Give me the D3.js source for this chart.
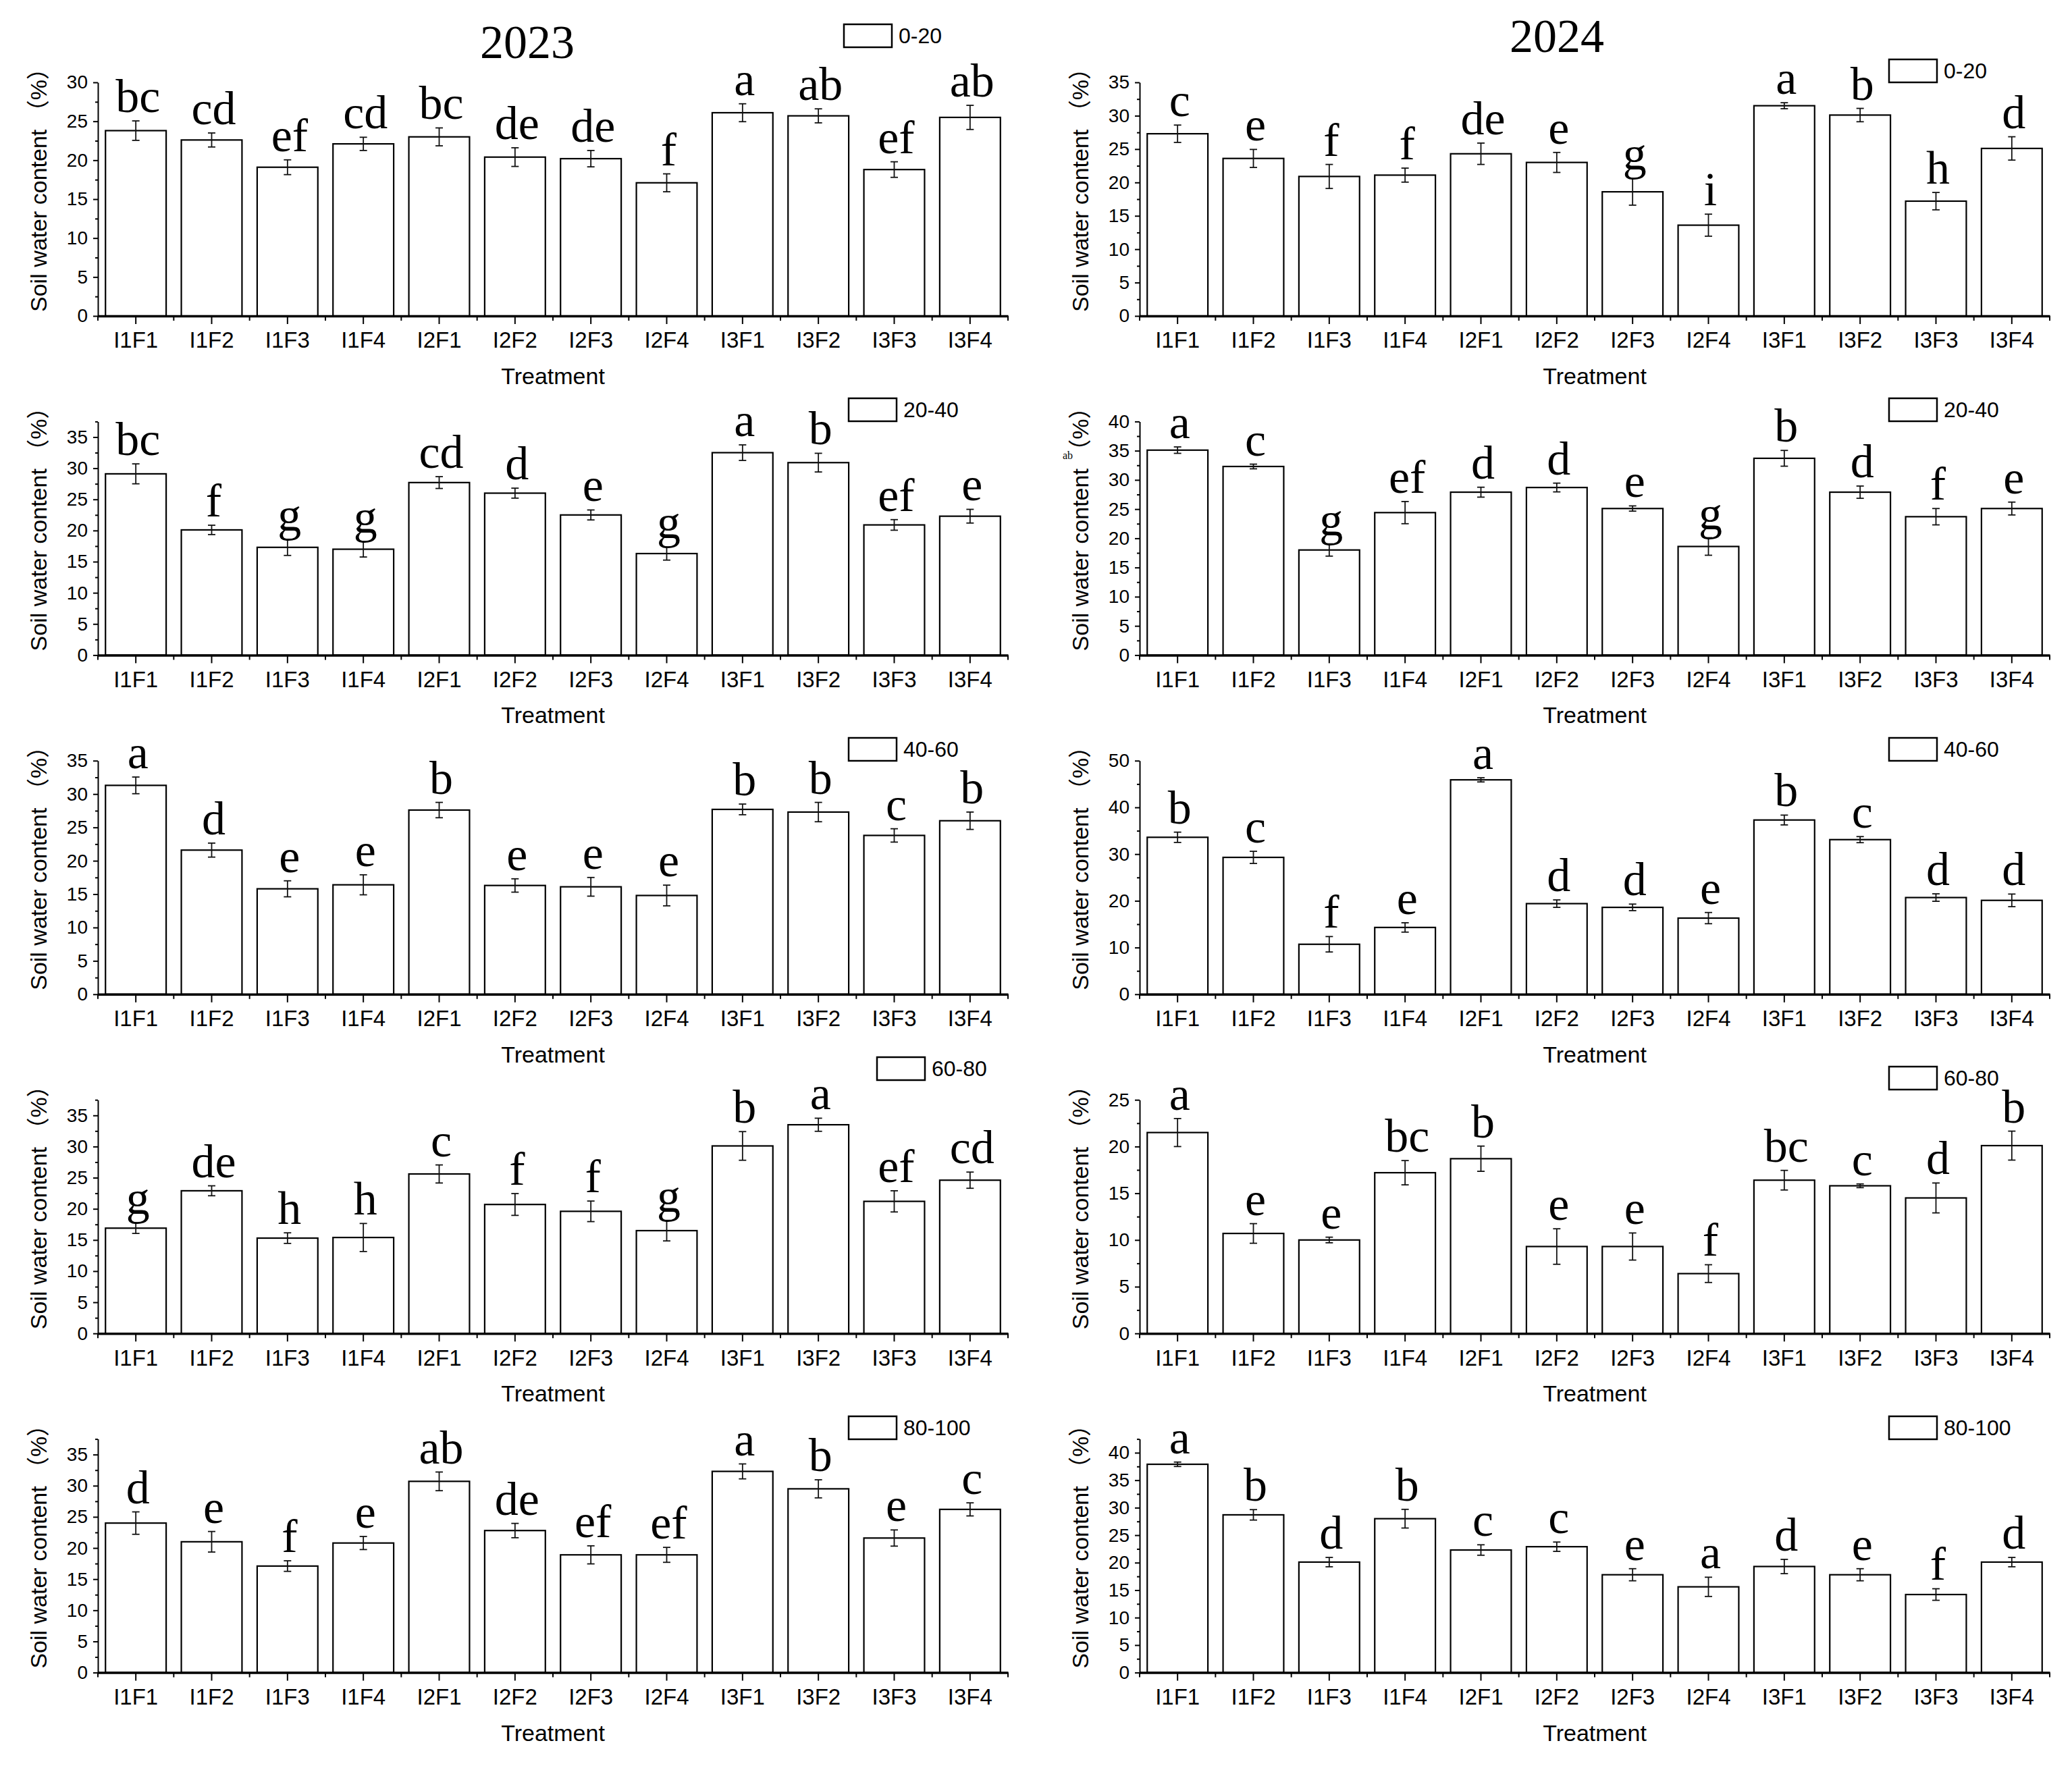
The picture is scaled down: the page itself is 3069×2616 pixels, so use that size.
<!DOCTYPE html>
<html>
<head>
<meta charset="utf-8">
<script src="https://cdn.jsdelivr.net/npm/d3@7"></script>
<style>
  body { margin: 0; background: #fff; }
</style>
</head>
<body>
<script>
'use strict';

// categories
var treatments = ['I1F1', 'I1F2', 'I1F3', 'I1F4', 'I2F1', 'I2F2', 'I2F3', 'I2F4', 'I3F1', 'I3F2', 'I3F3', 'I3F4'];
var depths = ['0-20', '20-40', '40-60', '60-80', '80-100'];
var years = ['2023', '2024'];

// 2023 soil water content (%), error, significance letters
var swc23_0_20   = [23.8, 22.6, 19.1, 22.1, 23.0, 20.4, 20.2, 17.1, 26.1, 25.7, 18.8, 25.5];
var err23_0_20   = [1.25, 0.9, 0.95, 0.85, 1.15, 1.2, 1.05, 1.15, 1.15, 0.9, 1.0, 1.55];
var sig23_0_20   = ['bc', 'cd', 'ef', 'cd', 'bc', 'de', 'de', 'f', 'a', 'ab', 'ef', 'ab'];

var swc23_20_40  = [29.1, 20.1, 17.3, 17.0, 27.7, 26.0, 22.5, 16.3, 32.5, 30.9, 20.9, 22.3];
var err23_20_40  = [1.6, 0.75, 1.3, 1.25, 0.95, 0.8, 0.8, 1.05, 1.25, 1.5, 0.85, 1.1];
var sig23_20_40  = ['bc', 'f', 'g', 'g', 'cd', 'd', 'e', 'g', 'a', 'b', 'ef', 'e'];

var swc23_40_60  = [31.3, 21.6, 15.8, 16.4, 27.6, 16.3, 16.1, 14.8, 27.7, 27.3, 23.8, 26.0];
var err23_40_60  = [1.25, 1.05, 1.2, 1.5, 1.15, 1.0, 1.4, 1.55, 0.8, 1.45, 1.0, 1.3];
var sig23_40_60  = ['a', 'd', 'e', 'e', 'b', 'e', 'e', 'e', 'b', 'b', 'c', 'b'];

var swc23_60_80  = [16.9, 22.9, 15.3, 15.4, 25.6, 20.7, 19.6, 16.5, 30.1, 33.5, 21.2, 24.6];
var err23_60_80  = [0.85, 0.8, 0.85, 2.25, 1.45, 1.75, 1.65, 1.65, 2.3, 1.05, 1.7, 1.3];
var sig23_60_80  = ['g', 'de', 'h', 'h', 'c', 'f', 'f', 'g', 'b', 'a', 'ef', 'cd'];

var swc23_80_100 = [24.0, 21.0, 17.1, 20.8, 30.7, 22.8, 18.9, 18.9, 32.3, 29.5, 21.6, 26.2];
var err23_80_100 = [1.8, 1.65, 0.85, 1.05, 1.5, 1.15, 1.45, 1.2, 1.2, 1.45, 1.3, 1.05];
var sig23_80_100 = ['d', 'e', 'f', 'e', 'ab', 'de', 'ef', 'ef', 'a', 'b', 'e', 'c'];

// 2024
var swc24_0_20   = [27.3, 23.6, 20.9, 21.1, 24.3, 23.0, 18.6, 13.6, 31.5, 30.1, 17.2, 25.1];
var err24_0_20   = [1.3, 1.35, 1.8, 1.05, 1.6, 1.5, 2.0, 1.65, 0.45, 1.0, 1.3, 1.75];
var sig24_0_20   = ['c', 'e', 'f', 'f', 'de', 'e', 'g', 'i', 'a', 'b', 'h', 'd'];

var swc24_20_40  = [35.1, 32.3, 18.0, 24.4, 27.9, 28.7, 25.1, 18.6, 33.7, 27.9, 23.7, 25.1];
var err24_20_40  = [0.55, 0.4, 1.05, 1.9, 0.85, 0.75, 0.45, 1.5, 1.35, 1.05, 1.4, 1.1];
var sig24_20_40  = ['a', 'c', 'g', 'ef', 'd', 'd', 'e', 'g', 'b', 'd', 'f', 'e'];

var swc24_40_60  = [33.6, 29.3, 10.7, 14.3, 45.9, 19.4, 18.6, 16.3, 37.3, 33.1, 20.7, 20.1];
var err24_40_60  = [1.1, 1.3, 1.65, 1.0, 0.45, 0.8, 0.7, 1.2, 1.05, 0.65, 0.8, 1.35];
var sig24_40_60  = ['b', 'c', 'f', 'e', 'a', 'd', 'd', 'e', 'b', 'c', 'd', 'd'];

var swc24_60_80  = [21.5, 10.7, 10.0, 17.2, 18.7, 9.3, 9.3, 6.4, 16.4, 15.8, 14.5, 20.1];
var err24_60_80  = [1.5, 1.05, 0.3, 1.3, 1.35, 1.9, 1.45, 0.95, 1.05, 0.2, 1.6, 1.55];
var sig24_60_80  = ['a', 'e', 'e', 'bc', 'b', 'e', 'e', 'f', 'bc', 'c', 'd', 'b'];

var swc24_80_100 = [37.9, 28.7, 20.1, 28.0, 22.3, 22.9, 17.8, 15.6, 19.3, 17.8, 14.2, 20.1];
var err24_80_100 = [0.4, 0.95, 0.85, 1.7, 0.95, 0.85, 1.1, 1.75, 1.3, 1.1, 1.05, 0.85];
var sig24_80_100 = ['a', 'b', 'd', 'b', 'c', 'c', 'e', 'a', 'd', 'e', 'f', 'd'];

// y axis top per panel, [2023, 2024] for each depth
var yTop23 = [30, 37.5, 35, 37.5, 37.5];
var yTop24 = [35, 40, 50, 25, 42.5];
var yStep23 = [5, 5, 5, 5, 5];
var yStep24 = [5, 5, 10, 5, 5];

var W = 3069, H = 2616;
var sans = '"Liberation Sans", Arial, "Noto Sans CJK SC", sans-serif';
var serif = '"Liberation Serif", "Times New Roman", serif';

var svg = d3.select('body').append('svg')
  .attr('width', W)
  .attr('height', H)
  .style('background', '#fff');

// layout
var colLeft = [145, 1688];
var plotW = 1348;
var rowTop0 = 122, rowGap = 502.4, plotH = 346;
var legendX = [[1250, 1257, 1257, 1299, 1257], [2798, 2798, 2798, 2798, 2798]];
var legendY = [[36, 590, 1093, 1566, 2098], [88, 590, 1093, 1580, 2098]];

var panels = [
  [swc23_0_20, err23_0_20, sig23_0_20],
  [swc23_20_40, err23_20_40, sig23_20_40],
  [swc23_40_60, err23_40_60, sig23_40_60],
  [swc23_60_80, err23_60_80, sig23_60_80],
  [swc23_80_100, err23_80_100, sig23_80_100],
  [swc24_0_20, err24_0_20, sig24_0_20],
  [swc24_20_40, err24_20_40, sig24_20_40],
  [swc24_40_60, err24_40_60, sig24_40_60],
  [swc24_60_80, err24_60_80, sig24_60_80],
  [swc24_80_100, err24_80_100, sig24_80_100]
];

function drawPanel(col, row) {
  var p = panels[col * 5 + row];
  var vals = p[0], errs = p[1], sigs = p[2];
  var data = treatments.map(function(t, i){
    return {t: t, v: vals[i], e: errs[i], s: sigs[i]};
  });
  var ymax = col === 0 ? yTop23[row] : yTop24[row];
  var ystep = col === 0 ? yStep23[row] : yStep24[row];
  var x0 = colLeft[col];
  var top = rowTop0 + row * rowGap;
  var bottom = top + plotH;

  var x = d3.scaleBand()
    .domain(treatments)
    .range([x0, x0 + plotW])
    .paddingInner(0.2)
    .paddingOuter(0.1);

  var y = d3.scaleLinear()
    .domain([0, ymax])
    .range([bottom, top]);

  var g = svg.append('g');

  // bars
  g.selectAll('.bar')
      .data(data)
    .enter().append('rect')
      .attr('class', 'bar')
      .attr('x', function(d){ return x(d.t); })
      .attr('y', function(d){ return y(d.v); })
      .attr('width', x.bandwidth())
      .attr('height', function(d){ return bottom - y(d.v); })
      .attr('fill', '#fff')
      .attr('stroke', '#000')
      .attr('stroke-width', 2.2);

  // error bars
  var eb = g.selectAll('.err')
      .data(data)
    .enter().append('g')
      .attr('class', 'err')
      .attr('stroke', '#111')
      .attr('stroke-width', 1.8);
  eb.append('line')
    .attr('x1', function(d){ return x(d.t) + x.bandwidth() / 2; })
    .attr('x2', function(d){ return x(d.t) + x.bandwidth() / 2; })
    .attr('y1', function(d){ return y(d.v - d.e); })
    .attr('y2', function(d){ return y(d.v + d.e); });
  [-1, 1].forEach(function(sgn){
    eb.append('line')
      .attr('x1', function(d){ return x(d.t) + x.bandwidth() / 2 - 5.5; })
      .attr('x2', function(d){ return x(d.t) + x.bandwidth() / 2 + 5.5; })
      .attr('y1', function(d){ return y(d.v + sgn * d.e); })
      .attr('y2', function(d){ return y(d.v + sgn * d.e); });
  });

  // significance letters
  g.selectAll('.sig')
      .data(data)
    .enter().append('text')
      .attr('class', 'sig')
      .attr('x', function(d){ return x(d.t) + x.bandwidth() / 2 + 3; })
      .attr('y', function(d){ return y(d.v + d.e) - 13; })
      .attr('text-anchor', 'middle')
      .attr('font-family', serif)
      .attr('font-size', 70)
      .attr('fill', '#000')
      .text(function(d){ return d.s; });

  // y axis: major with labels, minor without
  var major = d3.range(0, ymax + 0.001, ystep);
  var minor = d3.range(ystep / 2, ymax + 0.001, ystep);
  var yAxis = g.append('g')
    .attr('transform', 'translate(' + x0 + ',0)')
    .call(d3.axisLeft(y).tickValues(major).tickSize(7).tickSizeOuter(0).tickPadding(8));
  yAxis.select('.domain').attr('stroke', '#000').attr('stroke-width', 2);
  yAxis.selectAll('.tick line').attr('stroke', '#000').attr('stroke-width', 2);
  yAxis.selectAll('.tick text')
    .attr('font-family', sans)
    .attr('font-size', 28)
    .attr('fill', '#000');
  var yMinor = g.append('g')
    .attr('transform', 'translate(' + x0 + ',0)')
    .call(d3.axisLeft(y).tickValues(minor).tickSize(4).tickFormat(''));
  yMinor.select('.domain').remove();
  yMinor.selectAll('.tick line').attr('stroke', '#000').attr('stroke-width', 2);

  // x axis
  var xAxis = g.append('g')
    .attr('transform', 'translate(0,' + bottom + ')')
    .call(d3.axisBottom(x).tickSize(12).tickSizeOuter(0).tickPadding(12));
  xAxis.select('.domain').attr('stroke', '#000').attr('stroke-width', 3.5);
  xAxis.selectAll('.tick line').attr('stroke', '#000').attr('stroke-width', 2);
  xAxis.selectAll('.tick text')
    .attr('font-family', sans)
    .attr('font-size', 33)
    .attr('fill', '#000');

  // minor x ticks at band boundaries
  var bounds = d3.range(0, treatments.length + 1).map(function(i){ return x0 + i * x.step(); });
  g.selectAll('.xminor')
      .data(bounds)
    .enter().append('line')
      .attr('class', 'xminor')
      .attr('x1', function(d){ return d; })
      .attr('x2', function(d){ return d; })
      .attr('y1', bottom)
      .attr('y2', bottom + 7)
      .attr('stroke', '#000')
      .attr('stroke-width', 2);

  // axis titles
  g.append('text')
    .attr('x', x0 + plotW / 2)
    .attr('y', bottom + 101)
    .attr('text-anchor', 'middle')
    .attr('font-family', sans)
    .attr('font-size', 34)
    .attr('fill', '#000')
    .text('Treatment');

  g.append('text')
    .attr('transform', 'translate(' + (x0 - 76) + ',' + (bottom - 6) + ') rotate(-90)')
    .attr('text-anchor', 'start')
    .attr('font-family', sans)
    .attr('font-size', 34)
    .attr('fill', '#000')
    .text('Soil water content （%）');

  // legend
  var lx = legendX[col][row], ly = legendY[col][row];
  g.append('rect')
    .attr('x', lx)
    .attr('y', ly)
    .attr('width', 71)
    .attr('height', 34)
    .attr('fill', '#fff')
    .attr('stroke', '#000')
    .attr('stroke-width', 2.5);
  g.append('text')
    .attr('x', lx + 81)
    .attr('y', ly + 28)
    .attr('font-family', sans)
    .attr('font-size', 32)
    .attr('fill', '#000')
    .text(depths[row]);
}

for (var c = 0; c < 2; c++) {
  for (var r = 0; r < 5; r++) {
    drawPanel(c, r);
  }
}

// year titles
svg.append('text')
  .attr('x', 781)
  .attr('y', 86)
  .attr('text-anchor', 'middle')
  .attr('font-family', serif)
  .attr('font-size', 70)
  .attr('fill', '#000')
  .text(years[0]);

svg.append('text')
  .attr('x', 2306)
  .attr('y', 77)
  .attr('text-anchor', 'middle')
  .attr('font-family', serif)
  .attr('font-size', 70)
  .attr('fill', '#000')
  .text(years[1]);

// stray small mark left in the original figure
svg.append('text')
  .attr('x', 1574)
  .attr('y', 680)
  .attr('font-family', serif)
  .attr('font-size', 16)
  .attr('fill', '#000')
  .text('ab');
</script>
</body>
</html>
